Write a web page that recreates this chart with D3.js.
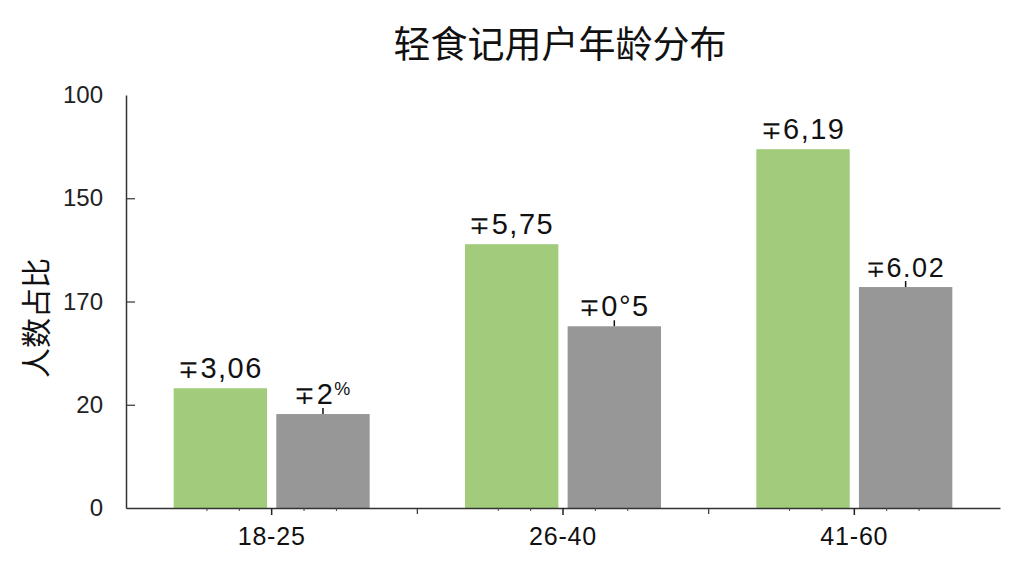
<!DOCTYPE html>
<html>
<head>
<meta charset="utf-8">
<script src="https://cdn.jsdelivr.net/npm/d3@7"></script>
<style>
  body { margin: 0; background: #fff; }
  svg { display: block; font-family: "Liberation Sans", Arial, sans-serif; }
</style>
</head>
<body>
<svg class="chart" width="1024" height="576"></svg>
<script>
const categories = ['18-25', '26-40', '41-60'];
const series = ['green', 'gray'];
const greenValues = [23.2, 51.1, 69.5];
const grayValues = [18.2, 35.2, 42.8];
const greenLabels = ['∓3,06', '∓5,75', '∓6,19'];
const grayLabels = ['∓2%', '∓0°5', '∓6.02'];
const yTickValues = [0, 20, 40, 60, 80];
const yTickLabels = ['0', '20', '170', '150', '100'];

const chart = d3.select('.chart');
const width = +chart.attr('width');
const height = +chart.attr('height');
const colors = { green: '#a2cb7b', gray: '#979797' };

const margin = { top: 95, right: 24, bottom: 68, left: 126 };
const innerWidth = width - margin.left - margin.right;
const innerHeight = height - margin.top - margin.bottom;

const data = categories.map((c, i) => ({
    cat: c,
    bars: [
        { key: 'green', value: greenValues[i], label: greenLabels[i] },
        { key: 'gray', value: grayValues[i], label: grayLabels[i] }
    ]
}));

const xScale = d3.scaleBand()
    .domain(categories)
    .range([0, innerWidth]);

const inner = d3.scaleBand()
    .domain(series)
    .range([xScale.bandwidth() / 2 - 98, xScale.bandwidth() / 2 + 98])
    .paddingInner(0.09);

const yScale = d3.scaleLinear()
    .domain([0, 80])
    .range([innerHeight, 0]);

const g = chart.append('g')
    .attr('transform', `translate(${margin.left},${margin.top})`);

// title
chart.append('text')
    .attr('x', 560).attr('y', 58)
    .attr('text-anchor', 'middle')
    .attr('font-family', '"Noto Sans CJK SC", sans-serif')
    .attr('font-size', 37)
    .attr('fill', '#111')
    .text('轻食记用户年龄分布');

// y title
chart.append('text')
    .attr('transform', 'translate(47,318) rotate(-90)')
    .attr('text-anchor', 'middle')
    .attr('font-family', '"Noto Sans CJK SC", sans-serif')
    .attr('font-size', 30)
    .attr('fill', '#111')
    .text('人数占比');

// bars
const groups = g.selectAll('.grp').data(data)
    .enter().append('g')
    .attr('class', 'grp')
    .attr('transform', d => `translate(${xScale(d.cat)},0)`);

groups.selectAll('rect').data(d => d.bars)
    .enter().append('rect')
    .attr('x', d => inner(d.key))
    .attr('y', d => yScale(d.value))
    .attr('width', inner.bandwidth())
    .attr('height', d => innerHeight - yScale(d.value))
    .attr('fill', d => colors[d.key]);

// little stubs on gray bars
groups.selectAll('.stub').data(d => d.bars.filter(b => b.key === 'gray'))
    .enter().append('line')
    .attr('class', 'stub')
    .attr('x1', d => inner(d.key) + inner.bandwidth() / 2)
    .attr('x2', d => inner(d.key) + inner.bandwidth() / 2)
    .attr('y1', d => yScale(d.value) - 6)
    .attr('y2', d => yScale(d.value))
    .attr('stroke', '#111')
    .attr('stroke-width', 1.5);

// value labels, % drawn as a small raised mark
groups.selectAll('.vlabel').data(d => d.bars)
    .enter().append('text')
    .attr('class', 'vlabel')
    .attr('x', d => inner(d.key) + inner.bandwidth() / 2)
    .attr('y', d => yScale(d.value) - 10)
    .attr('text-anchor', 'middle')
    .attr('font-size', d => d.label === '∓6.02' ? 27 : 29)
    .attr('letter-spacing', 1.5)
    .attr('fill', '#111')
    .each(function(d) {
        const t = d3.select(this);
        const parts = d.label.split('%');
        t.append('tspan').attr('font-size', '0.85em').text(parts[0].charAt(0));
        t.append('tspan').text(parts[0].slice(1));
        if (parts.length > 1) {
            t.append('tspan').attr('font-size', '0.62em').attr('dy', -9).text('%');
        }
    });

// y axis
const yAxis = g.append('g')
    .call(d3.axisRight(yScale)
        .tickValues(yTickValues)
        .tickFormat((d, i) => yTickLabels[i])
        .tickSize(9)
        .tickSizeOuter(0));
yAxis.select('.domain').attr('stroke', '#333').attr('stroke-width', 1.5);
yAxis.selectAll('.tick line').attr('stroke', '#333').attr('stroke-width', 1.2)
    .filter(d => d === 0 || d === 80).remove();
yAxis.selectAll('.tick text')
    .attr('x', -23)
    .attr('text-anchor', 'end')
    .attr('font-size', 24)
    .attr('fill', '#222');

// x axis
const xAxis = g.append('g')
    .attr('transform', `translate(0,${innerHeight})`)
    .call(d3.axisBottom(xScale).tickSize(7).tickSizeOuter(0).tickPadding(12));
xAxis.select('.domain').attr('stroke', '#333').attr('stroke-width', 1.5);
xAxis.selectAll('.tick line').attr('stroke', '#222').attr('stroke-width', 1.5);
xAxis.selectAll('.tick text')
    .attr('font-size', 25)
    .attr('letter-spacing', 0.8)
    .attr('fill', '#111');

// boundary and minor ticks
const step = xScale.bandwidth();
const bounds = categories.slice(1).map(c => xScale(c));
xAxis.selectAll('.bound').data(bounds)
    .enter().append('line')
    .attr('x1', d => d).attr('x2', d => d)
    .attr('y1', 0).attr('y2', 6)
    .attr('stroke', '#333').attr('stroke-width', 1.2);
const minors = [];
categories.forEach(c => {
    const cx = xScale(c) + step / 2;
    [-2, -1, 1, 2].forEach(k => minors.push(cx + k * step / 9));
});
xAxis.selectAll('.minor').data(minors)
    .enter().append('line')
    .attr('x1', d => d).attr('x2', d => d)
    .attr('y1', 0).attr('y2', 3)
    .attr('stroke', '#444').attr('stroke-width', 1);
</script>
</body>
</html>
